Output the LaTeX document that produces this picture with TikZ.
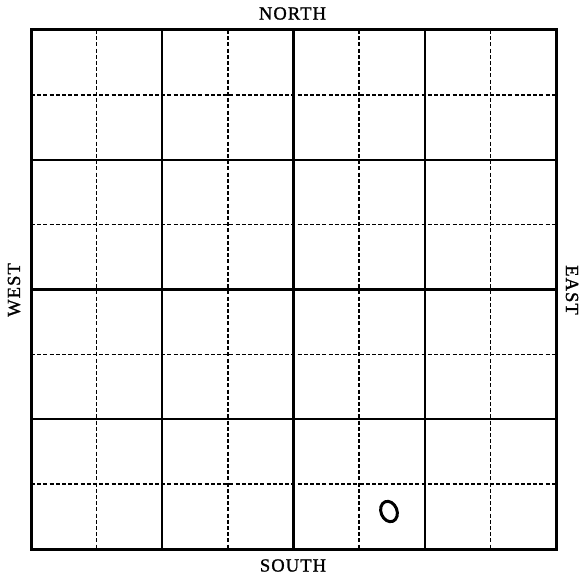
\documentclass[tikz,border=0pt]{standalone}
\usepackage{fontspec}
\newfontfamily\compassfont[LetterSpace=6,FakeBold=1.2]{Liberation Serif}
\usetikzlibrary{positioning}

\begin{document}
\begin{tikzpicture}[x=1pt, y=-1pt,
  major/.style={line width=2.3pt},
  minor/.style={line width=1.3pt, dash pattern=on 4pt off 2.2pt},
  compass/.style={font=\compassfont\fontsize{18.5}{20}\selectfont, inner sep=0pt}]
\useasboundingbox (0,0) rectangle (583,577);
\fill[white] (0,0) rectangle (583,577);
% dashed half lines
\foreach \i in {1,3,5,7} {
  \draw[minor] ({31+65.625*\i},30) -- ({31+65.625*\i},549);
  \draw[minor] (31,{30+64.875*\i}) -- (556,{30+64.875*\i});
}
% solid lines
\foreach \i in {2,4,6} {
  \draw[major] ({31+65.625*\i},30) -- ({31+65.625*\i},549);
  \draw[major] (31,{30+64.875*\i}) -- (556,{30+64.875*\i});
}
\draw[line width=3pt] (31,30) rectangle (556,549);
% the mark
\draw[line width=3pt, rotate around={22:(389,511.5)}] (389,511.5) ellipse (8 and 10.5);
% labels
\node[compass] (north) at (292.5,13.5) {NORTH};
\node[compass] (south) at (293,565.5) {SOUTH};
\node[compass, rotate=90] (west) at (14,290) {WEST};
\node[compass, rotate=-90] (east) at (572,290) {EAST};
\end{tikzpicture}
\end{document}
